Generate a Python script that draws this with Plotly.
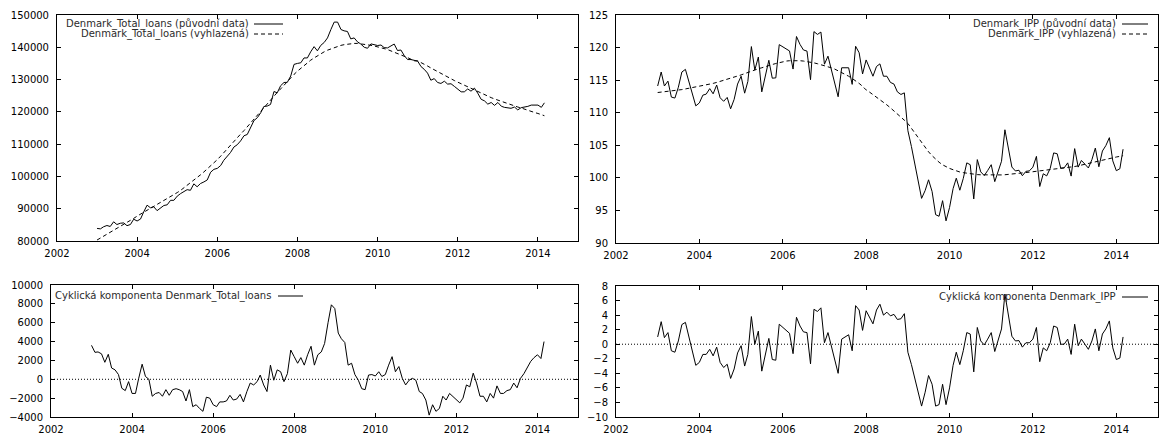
import pandas as pd
import plotly.graph_objects as go

# ---------------- data (monthly, 2003:01 - 2014:03) ----------------
months = pd.date_range("2003-01-01", periods=135, freq="MS")

# Denmark_Total_loans: HP trend (thousands)
loans_trend_k = [
    80.3, 80.9, 81.5, 82.1, 82.7, 83.3, 83.9, 84.5, 85.1, 85.7, 86.3, 87.0,
    87.7, 88.3, 88.9, 89.5, 90.0, 90.6, 91.2, 91.8, 92.4, 93.0, 93.7, 94.3,
    95.0, 95.7, 96.4, 97.2, 98.0, 98.8, 99.7, 100.5, 101.4, 102.3, 103.2, 104.2,
    105.2, 106.3, 107.4, 108.6, 109.7, 110.8, 112.0, 113.1, 114.2, 115.4, 116.5, 117.7,
    118.8, 120.0, 121.2, 122.4, 123.6, 124.8, 126.0, 127.1, 128.3, 129.4, 130.5, 131.6,
    132.6, 133.5, 134.4, 135.2, 136.0, 136.7, 137.4, 138.0, 138.6, 139.1, 139.5, 139.9,
    140.3, 140.6, 140.8, 141.0, 141.1, 141.2, 141.2, 141.1, 141.0, 140.8, 140.6, 140.4,
    140.2, 139.9, 139.6, 139.3, 138.9, 138.6, 138.2, 137.8, 137.3, 136.8, 136.3, 135.8,
    135.8, 135.3, 134.7, 134.2, 133.6, 133.0, 132.5, 131.9, 131.3, 130.8, 130.2, 129.7,
    129.2, 128.7, 128.2, 127.7, 127.2, 126.7, 126.2, 125.7, 125.2, 124.8, 124.4, 124.0,
    123.6, 123.25, 122.9, 122.55, 122.2, 121.9, 121.5, 121.2, 120.8, 120.5, 120.2, 119.8,
    119.5, 119.2, 118.8,
]
# Denmark_Total_loans: cyclical component (thousands)
loans_cycle_k = [
    3.6, 2.86, 2.9, 2.7, 1.8, 2.65, 1.2, 1.0, 0.5, -0.95, -1.2, -0.25,
    -1.5, -1.5, 0.1, 1.6, 0.3, 0.0, -1.8, -1.5, -1.4, -1.8, -1.1, -1.7,
    -1.1, -1.0, -1.1, -1.3, -2.3, -1.1, -2.9, -2.7, -3.1, -3.4, -1.9, -2.0,
    -2.7, -2.9, -2.4, -2.4, -2.3, -1.7, -2.2, -2.1, -1.6, -2.4, -1.3, -0.4,
    -0.6, -0.25, 0.45, -0.6, -1.3, 1.5, -0.1, 1.0, 0.8, -0.25, 0.6, 3.1,
    2.4, 1.7, 2.3, 1.5, 2.6, 3.5, 1.5, 2.6, 2.9, 3.8, 6.0, 7.9,
    7.5, 4.9, 4.3, 3.9, 1.5, 1.7, 0.5, -0.1, -1.0, -1.1, 0.45, 0.5,
    0.35, 0.8, 0.3, 0.5, 1.5, 2.4, 0.8, 1.35, 0.1, -0.6, -0.1, 0.1,
    -0.1, -1.3, -1.5, -2.2, -3.8, -2.7, -3.4, -3.1, -1.8, -2.2, -1.5, -1.8,
    -2.2, -2.5, -2.0, -0.6, -0.8, 0.65, -0.4, -1.8, -1.8, -2.4, -1.5, -2.0,
    -0.7, -1.5, -1.5, -1.2, -1.1, -0.4, -0.9, 0.1, 0.6, 1.2, 1.9, 2.3,
    2.6, 2.2, 4.0,
]

# Denmark_IPP: HP trend
ipp_trend = [
    113.1, 113.15, 113.2, 113.25, 113.3, 113.35, 113.45, 113.55, 113.65, 113.75, 113.85, 113.95,
    114.0, 114.1, 114.25, 114.4, 114.5, 114.65, 114.8, 114.95, 115.1, 115.3, 115.45, 115.6,
    115.8, 116.0, 116.2, 116.35, 116.55, 116.75, 116.9, 117.1, 117.25, 117.4, 117.55, 117.7,
    117.85, 117.93, 117.98, 118.0, 118.0, 117.98, 117.93, 117.86, 117.77, 117.65, 117.52, 117.38,
    117.25, 117.08, 116.9, 116.7, 116.45, 116.2, 115.9, 115.6, 115.25, 114.9, 114.5, 114.05,
    113.5, 113.15, 112.8, 112.4, 112.0, 111.6, 111.2, 110.75, 110.3, 109.8, 109.3, 108.85,
    108.35, 107.6, 106.85, 106.1, 105.35, 104.65, 104.0, 103.4, 102.85, 102.4, 102.0, 101.7,
    101.45, 101.25, 101.05, 100.9, 100.8, 100.7, 100.62, 100.56, 100.5, 100.47, 100.45, 100.43,
    100.42, 100.42, 100.43, 100.45, 100.48, 100.52, 100.56, 100.61, 100.67, 100.73, 100.8, 100.87,
    100.94, 101.0, 101.07, 101.13, 101.2, 101.27, 101.33, 101.4, 101.47, 101.53, 101.6, 101.67,
    101.74, 101.85, 101.97, 102.1, 102.22, 102.35, 102.47, 102.6, 102.72, 102.85, 102.97, 103.1,
    103.2, 103.3, 103.4,
]
# Denmark_IPP: cyclical component
ipp_cycle = [
    1.0, 3.1, 0.9, 1.6, -0.9, -1.1, 0.45, 2.7, 3.0, 1.1, -0.6, -2.9,
    -2.5, -1.4, -1.4, -0.7, -1.6, -0.4, -2.5, -3.2, -2.75, -4.7, -3.4, -1.2,
    -0.2, -3.0, -1.4, 3.8, 0.0, 1.8, -3.7, -1.6, 0.8, -2.1, -2.2, 2.75,
    2.3, 1.8, 1.5, -1.3, 3.7, 2.5, 1.7, 1.6, -2.7, 4.8, 4.5, 5.0,
    0.2, 1.6, -0.1, -2.1, -4.0, 0.7, 1.0, 1.3, -0.9, 5.3, 4.7, 1.9,
    4.6, 3.7, 2.8, 4.7, 5.5, 4.0, 4.4, 3.9, 4.1, 3.4, 3.5, 4.2,
    -1.1, -2.8, -4.6, -6.4, -8.5, -6.6, -4.3, -5.5, -8.5, -8.3, -5.5, -8.3,
    -6.0, -2.9, -1.1, -2.8, -0.9, 1.6, 1.4, -3.8, 2.3, 0.45, -0.1, 0.7,
    1.6, -1.0, 0.45, 2.1, 6.9, 4.0, 1.1, 0.45, 0.5, -0.4, 0.2, 0.2,
    0.7, 2.3, -2.4, -0.5, -0.9, 0.2, 2.5, 2.3, 0.0, 0.0, 0.7, -1.4,
    2.75, -0.2, 0.7, 0.0, -0.7, 0.45, 2.1, -0.9, 1.4, 2.1, 3.2, -0.5,
    -2.1, -1.9, 1.0,
]

loans_trend = [v * 1000 for v in loans_trend_k]
loans_cycle = [v * 1000 for v in loans_cycle_k]
loans_orig = [t + c for t, c in zip(loans_trend, loans_cycle)]
ipp_orig = [t + c for t, c in zip(ipp_trend, ipp_cycle)]

year_ticks = ["2002", "2004", "2006", "2008", "2010", "2012", "2014"]

legend_labels = {
    "loans_orig": "Denmark_Total_loans (původní data)",
    "loans_trend": "Denmark_Total_loans (vyhlazená)",
    "ipp_orig": "Denmark_IPP (původní data)",
    "ipp_trend": "Denmark_IPP (vyhlazená)",
    "loans_cycle": "Cyklická komponenta Denmark_Total_loans",
    "ipp_cycle": "Cyklická komponenta Denmark_IPP",
}

# ---------------- figure ----------------
W, H = 1163, 439
FONT = "DejaVu Sans"
TXT = "#2b2b2b"


def px(x):
    return x / W


def py(y):
    return 1 - y / H


SOLID = dict(color="black", width=1)
DASHED = dict(color="black", width=1, dash="4px,3px")

fig = go.Figure()
fig.add_trace(go.Scatter(x=months, y=loans_orig, mode="lines", line=SOLID, xaxis="x", yaxis="y"))
fig.add_trace(go.Scatter(x=months, y=loans_trend, mode="lines", line=DASHED, xaxis="x", yaxis="y"))
fig.add_trace(go.Scatter(x=months, y=ipp_orig, mode="lines", line=SOLID, xaxis="x2", yaxis="y2"))
fig.add_trace(go.Scatter(x=months, y=ipp_trend, mode="lines", line=DASHED, xaxis="x2", yaxis="y2"))
fig.add_trace(go.Scatter(x=months, y=loans_cycle, mode="lines", line=SOLID, xaxis="x3", yaxis="y3"))
fig.add_trace(go.Scatter(x=months, y=ipp_cycle, mode="lines", line=SOLID, xaxis="x4", yaxis="y4"))

tickvals = [f"{y}-01-01" for y in year_ticks]


def xaxis(domain, anchor):
    return dict(
        domain=domain, anchor=anchor, type="date",
        range=["2002-01-01", "2015-01-01"],
        tickvals=tickvals, ticktext=year_ticks,
        ticks="inside", ticklen=4, tickcolor="black",
        showline=True, linecolor="black", linewidth=1, mirror="ticks",
        showgrid=False, zeroline=False, automargin=False,
        ticklabelstandoff=3,
        tickfont=dict(family=FONT, size=10, color="black"),
    )


def yaxis(domain, anchor, rng, dtick):
    return dict(
        domain=domain, anchor=anchor, range=rng, dtick=dtick, tick0=rng[0],
        tickformat="d",
        ticks="inside", ticklen=4, tickcolor="black",
        showline=True, linecolor="black", linewidth=1, mirror="ticks",
        showgrid=False, zeroline=False, automargin=False,
        ticklabelstandoff=5,
        tickfont=dict(family=FONT, size=10, color="black"),
    )


fig.update_layout(
    width=W, height=H,
    margin=dict(l=0, r=0, t=0, b=0),
    paper_bgcolor="white", plot_bgcolor="white",
    showlegend=False,
    xaxis=xaxis([px(57), px(578)], "y"),
    yaxis=yaxis([py(241), py(15)], "x", [80000, 150000], 10000),
    xaxis2=xaxis([px(616), px(1158)], "y2"),
    yaxis2=yaxis([py(243), py(15)], "x2", [90, 125], 5),
    xaxis3=xaxis([px(51), px(578)], "y3"),
    yaxis3=yaxis([py(417), py(285)], "x3", [-4000, 10000], 2000),
    xaxis4=xaxis([px(616), px(1158)], "y4"),
    yaxis4=yaxis([py(417), py(286)], "x4", [-10, 8], 2),
)

shapes = []
annotations = []
# dotted zero lines
for xr, yr in (("x3", "y3"), ("x4", "y4")):
    shapes.append(dict(type="line", xref=xr, yref=yr, x0="2002-01-01", x1="2015-01-01",
                       y0=0, y1=0, line=dict(color="black", width=1, dash="1px,2px"), layer="below"))

# gnuplot-style keys: text right-aligned, then line sample
legend_rows = [
    ("loans_orig", 251, 24, 254, 283, None),
    ("loans_trend", 251, 34, 254, 283, "4px,3px"),
    ("ipp_orig", 1118, 24, 1122, 1148, None),
    ("ipp_trend", 1118, 34, 1122, 1148, "4px,3px"),
    ("loans_cycle", 273, 296, 278, 303, None),
    ("ipp_cycle", 1117, 297, 1122, 1148, None),
]
for key, tx, ty, lx0, lx1, dash in legend_rows:
    annotations.append(dict(xref="paper", yref="paper", x=px(tx), y=py(ty), text=legend_labels[key],
                            showarrow=False, xanchor="right", yanchor="middle",
                            font=dict(family=FONT, size=10, color=TXT)))
    ln = dict(color="black", width=1)
    if dash:
        ln["dash"] = dash
    shapes.append(dict(type="line", xref="paper", yref="paper", x0=px(lx0), x1=px(lx1),
                       y0=py(ty), y1=py(ty), line=ln))

fig.update_layout(shapes=shapes, annotations=annotations)
fig.write_html(
    "out.html",
    config={"displayModeBar": False},
    post_script="document.body.style.margin='0';document.body.style.overflow='hidden';",
)
